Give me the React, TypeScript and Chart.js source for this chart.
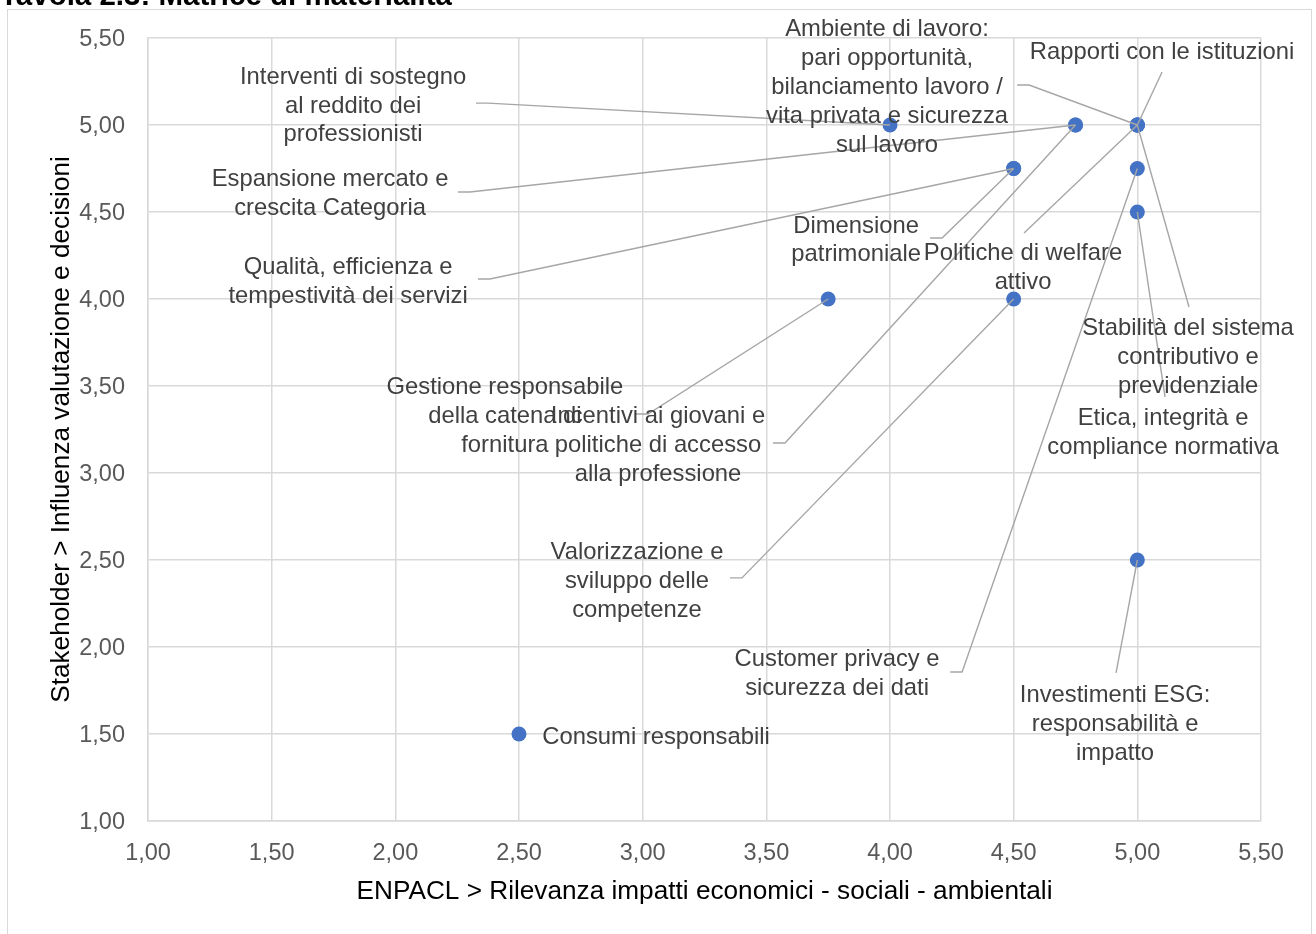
import React, { useEffect, useRef } from 'react';
import { Chart, registerables } from 'chart.js';

Chart.register(...registerables);

const FONT = '"Liberation Sans", Arial, "DejaVu Sans", sans-serif';

// Topic labels (as wrapped in the reference)
const topicLabels: string[][] = [
  ['Interventi di sostegno', 'al reddito dei', 'professionisti'],
  ['Ambiente di lavoro:', 'pari opportunità,', 'bilanciamento lavoro /', 'vita privata e sicurezza', 'sul lavoro'],
  ['Rapporti con le istituzioni'],
  ['Espansione mercato e', 'crescita Categoria'],
  ['Qualità, efficienza e', 'tempestività dei servizi'],
  ['Dimensione', 'patrimoniale'],
  ['Politiche di welfare', 'attivo'],
  ['Stabilità del sistema', 'contributivo e', 'previdenziale'],
  ['Etica, integrità e', 'compliance normativa'],
  ['Gestione responsabile', 'della catena di', 'fornitura'],
  ['Incentivi ai giovani e', 'politiche di accesso', 'alla professione'],
  ['Valorizzazione e', 'sviluppo delle', 'competenze'],
  ['Customer privacy e', 'sicurezza dei dati'],
  ['Investimenti ESG:', 'responsabilità e', 'impatto'],
  ['Consumi responsabili'],
];

// ENPACL > Rilevanza impatti (x) and Stakeholder > Influenza (y)
const impactX = [4.0, 5.0, 5.0, 4.75, 4.5, 4.5, 5.0, 5.0, 5.0, 3.75, 4.75, 4.5, 5.0, 5.0, 2.5];
const influenceY = [5.0, 5.0, 5.0, 5.0, 4.75, 4.75, 5.0, 5.0, 4.5, 4.0, 5.0, 4.0, 4.75, 2.5, 1.5];

const xTickLabels = ['1,00', '1,50', '2,00', '2,50', '3,00', '3,50', '4,00', '4,50', '5,00', '5,50'];
const yTickLabels = ['1,00', '1,50', '2,00', '2,50', '3,00', '3,50', '4,00', '4,50', '5,00', '5,50'];

const xAxisTitle = 'ENPACL > Rilevanza impatti economici - sociali - ambientali';
const yAxisTitle = 'Stakeholder > Influenza valutazione e decisioni';
const chartTitle = 'Tavola 2.3: Matrice di materialità';

// Data-label placement, expressed in axis units (centre of the text block)
const labelCenterX = [1.829, 3.988, 5.1, 1.736, 1.809, 3.863, 4.538, 5.205, 5.104, 2.443, 3.062, 2.977, 3.786, 4.91, 3.054];
const labelCenterY = [5.118, 5.224, 5.425, 4.612, 4.106, 4.345, 4.187, 3.672, 3.239, 3.333, 3.167, 2.385, 1.853, 1.563, 1.489];

// Leader line start (label side), in axis units; null = no leader
const leaderStartX: (number | null)[] = [2.326, 4.514, 5.1, 2.253, 2.334, 4.162, 4.542, 5.209, 5.112, 2.973, 3.527, 3.353, 4.243, 4.914, null];
const leaderStartY: (number | null)[] = [5.126, 5.23, 5.305, 4.615, 4.115, 4.351, 4.379, 3.954, 3.437, 3.339, 3.172, 2.397, 1.856, 1.851, null];
const leaderElbow = [true, true, false, true, true, true, false, false, false, true, true, true, true, false, false];

const labelPlugin = {
  id: 'materialityLabels',
  afterDatasetsDraw(chart: any) {
    const { ctx } = chart;
    const xs = chart.scales.x;
    const ys = chart.scales.y;
    ctx.save();
    // leader lines
    ctx.strokeStyle = '#a6a6a6';
    ctx.lineWidth = 1.4;
    for (let i = 0; i < topicLabels.length; i++) {
      const lx = leaderStartX[i];
      const ly = leaderStartY[i];
      if (lx === null || ly === null) continue;
      const sx = xs.getPixelForValue(lx);
      const sy = ys.getPixelForValue(ly);
      const px = xs.getPixelForValue(impactX[i]);
      const py = ys.getPixelForValue(influenceY[i]);
      ctx.beginPath();
      ctx.moveTo(sx, sy);
      if (leaderElbow[i]) ctx.lineTo(sx + Math.sign(px - sx) * 12, sy);
      ctx.lineTo(px, py);
      ctx.stroke();
    }
    // texts
    const lh = 28.8;
    const baselineShift = 1.5;
    ctx.fillStyle = '#404040';
    ctx.font = `23.8px ${FONT}`;
    ctx.textAlign = 'center';
    ctx.textBaseline = 'middle';
    for (let i = 0; i < topicLabels.length; i++) {
      const lines = topicLabels[i];
      const cx = xs.getPixelForValue(labelCenterX[i]);
      const cy = ys.getPixelForValue(labelCenterY[i]) + baselineShift;
      const y0 = cy - ((lines.length - 1) * lh) / 2;
      lines.forEach((t, k) => ctx.fillText(t, cx, y0 + k * lh));
    }
    ctx.restore();
  },
};

export default function App() {
  const ref = useRef<HTMLCanvasElement | null>(null);

  useEffect(() => {
    if (!ref.current) return;
    const points = impactX.map((x, i) => ({ x, y: influenceY[i] }));
    const chart = new Chart(ref.current, {
      type: 'scatter',
      data: {
        datasets: [
          {
            label: 'Temi materiali',
            data: points,
            backgroundColor: '#4472C4',
            borderColor: '#4472C4',
            pointRadius: 7.5,
            pointHoverRadius: 7.5,
            borderWidth: 0,
          },
        ],
      },
      options: {
        animation: false,
        responsive: false,
        devicePixelRatio: 1,
        layout: { padding: { top: 38, right: 55, left: 0, bottom: 0 } },
        plugins: {
          legend: { display: false },
          tooltip: { enabled: false },
          title: { display: false },
        },
        scales: {
          x: {
            type: 'linear',
            min: 1,
            max: 5.5,
            afterFit: (s: any) => {
              s.height = 113;
            },
            ticks: {
              stepSize: 0.5,
              padding: 18.5,
              color: '#595959',
              font: { family: FONT, size: 23.5 },
              callback: (_v: any, i: number) => xTickLabels[i],
              maxRotation: 0,
            },
            grid: { color: '#d9d9d9', lineWidth: 1.5, drawTicks: false },
            border: { color: '#d9d9d9', width: 1.5 },
            title: {
              display: true,
              text: xAxisTitle,
              color: '#000000',
              font: { family: FONT, size: 26.2 },
              padding: { top: 0, bottom: 26.6 },
            },
          },
          y: {
            type: 'linear',
            min: 1,
            max: 5.5,
            afterFit: (s: any) => {
              s.width = 148;
            },
            ticks: {
              stepSize: 0.5,
              padding: 23,
              labelOffset: 1.5,
              color: '#595959',
              font: { family: FONT, size: 23.5 },
              callback: (_v: any, i: number) => yTickLabels[i],
            },
            grid: { color: '#d9d9d9', lineWidth: 1.5, drawTicks: false },
            border: { color: '#d9d9d9', width: 1.5 },
            title: {
              display: true,
              text: yAxisTitle,
              color: '#000000',
              font: { family: FONT, size: 26.2 },
              padding: { top: 46, bottom: 0 },
            },
          },
        },
      },
      plugins: [labelPlugin],
    });
    return () => chart.destroy();
  }, []);

  return (
    <div
      style={{
        position: 'absolute',
        left: 0,
        top: 0,
        width: 1316,
        height: 934,
        overflow: 'hidden',
        background: '#ffffff',
      }}
    >
      <div
        style={{
          position: 'absolute',
          left: 7,
          top: 9,
          width: 1305,
          height: 960,
          border: '1px solid #d9d9d9',
          boxSizing: 'border-box',
        }}
      />
      <canvas
        ref={ref}
        width={1316}
        height={934}
        style={{ position: 'absolute', left: 0, top: 0, width: 1316, height: 934 }}
      />
      <div
        style={{
          position: 'absolute',
          left: 0,
          top: -20.5,
          font: `bold 29.5px ${FONT}`,
          lineHeight: '29px',
          color: '#000000',
          whiteSpace: 'nowrap',
        }}
      >
        {chartTitle}
      </div>
    </div>
  );
}
